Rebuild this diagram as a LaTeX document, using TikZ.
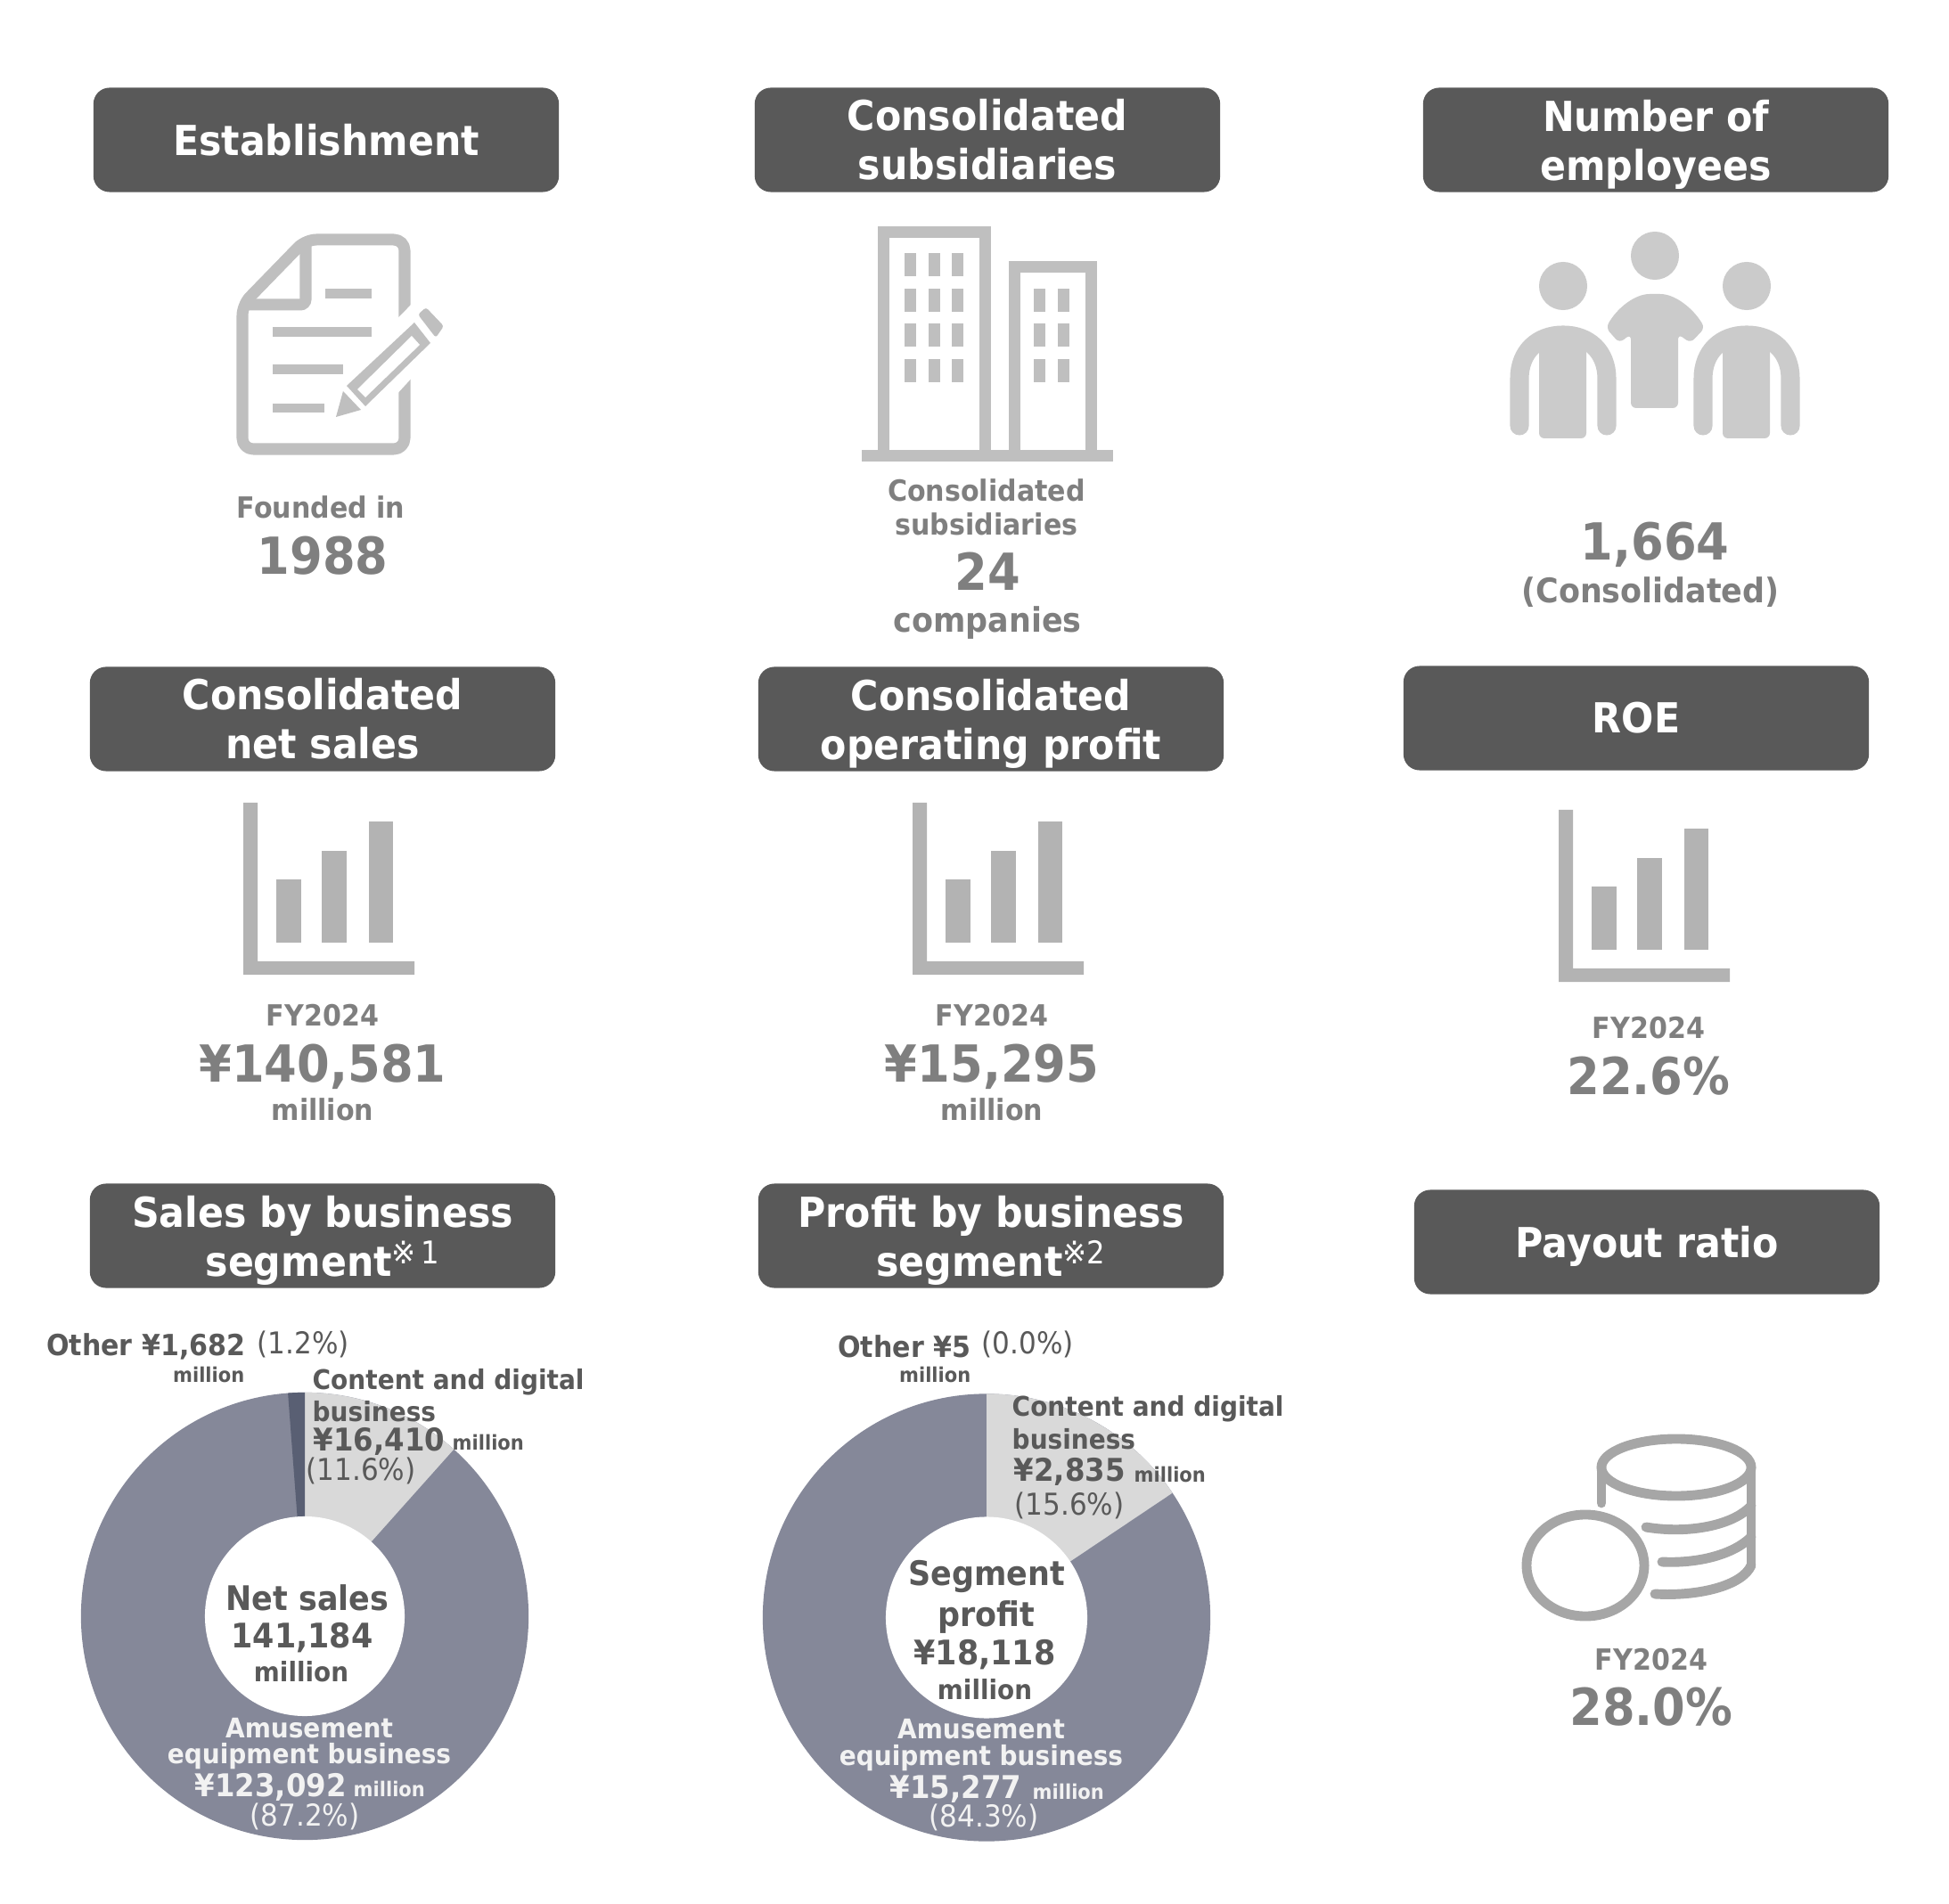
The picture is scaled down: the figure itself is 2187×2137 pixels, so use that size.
\documentclass[tikz,border=0pt]{standalone}
\usepackage{fontspec}
\setmainfont{DejaVu Sans}[FakeStretch=0.92]
\definecolor{headgray}{HTML}{595959}
\definecolor{txtgray}{HTML}{7F7F7F}
\definecolor{ringblue}{HTML}{858899}
\definecolor{ringdark}{HTML}{595F73}
\definecolor{ringlight}{HTML}{D9D9D9}
\definecolor{docgray}{HTML}{BFBFBF}
\definecolor{chartgray}{HTML}{B3B3B3}
\definecolor{peoplegray}{HTML}{CBCBCB}
\definecolor{coingray}{HTML}{A6A6A6}
\newcommand{\nodp}[1]{\raisebox{0pt}[\height][0pt]{#1}}
\newcommand{\refmark}[1]{{\mdseries\fontsize{10}{10}\selectfont\raisebox{4pt}{※#1}}}
\tikzset{
  headbox/.style={fill=headgray, text=white, rounded corners=0.18cm, minimum width=5.22cm,
    minimum height=1.17cm, inner sep=0pt, align=center,
    font=\bfseries\fontsize{13.2}{15.7}\selectfont},
  labtxt/.style={text=txtgray, inner sep=0pt, font=\bfseries\fontsize{9.3}{11}\selectfont},
  widetxt/.style={text=txtgray, inner sep=0pt, font=\bfseries\fontsize{10.8}{13}\selectfont},
  bigtxt/.style={text=txtgray, inner sep=0pt, font=\bfseries\fontsize{16.3}{19}\selectfont},
  ringtxt/.style={text=headgray, inner sep=0pt, font=\bfseries\fontsize{8.65}{10}\selectfont},
  ringnum/.style={text=headgray, inner sep=0pt, font=\bfseries\fontsize{10}{12}\selectfont},
  ringmil/.style={text=headgray, inner sep=0pt, font=\bfseries\fontsize{6.5}{8}\selectfont},
  ringpct/.style={text=headgray, inner sep=0pt, font=\fontsize{9.6}{12}\selectfont},
  othertxt/.style={text=headgray, inner sep=0pt, anchor=east, font=\bfseries\fontsize{9.3}{11}\selectfont},
  midtxt/.style={text=headgray, inner sep=0pt, font=\bfseries\fontsize{10.8}{13}\selectfont},
  midmil/.style={text=headgray, inner sep=0pt, font=\bfseries\fontsize{8.6}{10}\selectfont},
  onring/.style={text=white!95!black}
}
\begin{document}
\begin{tikzpicture}[x=0.01cm, y=-0.01cm]
    \useasboundingbox (0,0) rectangle (2187,2137);

    \draw (366,157) node [headbox] (estab) {Establishment};
    \draw (1108,157) node [headbox] (subs) {Consolidated\\subsidiaries};
    \draw (1858,157) node [headbox] (staff) {Number of\\\nodp{employees}};
    \draw (362,807) node [headbox] (sales) {Consolidated\\net sales};
    \draw (1112,807) node [headbox] (profit) {Consolidated\\\nodp{operating profit}};
    \draw (1836,806) node [headbox] (roe) {ROE};
    \draw (362,1387) node [headbox] (segsales) {Sales by business\\\nodp{segment\refmark{\,1}}};
    \draw (1112,1387) node [headbox] (segprofit) {Profit by business\\\nodp{segment\refmark{2}}};
    \draw (1848,1394) node [headbox] (payout) {\nodp{Payout ratio}};

    \draw[docgray, line width=3.7pt, line join=round, rounded corners=0.12cm]
        (343,269) -- (272,342) -- (272,504) -- (454,504) -- (454,269) -- cycle;
    \draw[docgray, line width=3.7pt, rounded corners=0.06cm] (343,269) -- (343,342) -- (272,342);
    \fill[white] (372,470) -- (380,425) -- (468,335) -- (510,372) -- (420,470) -- cycle;
    \fill[docgray] (365,324) rectangle (417,335);
    \fill[docgray] (306,367) rectangle (417,378);
    \fill[docgray] (306,409) rectangle (385,420);
    \fill[docgray] (306,453) rectangle (364,463);
    \fill[docgray] (377,468) -- (385,439) -- (405,460) -- cycle;
    \fill[docgray] (389,433) -- (410,456) -- (483,385) -- (465,362) -- cycle;
    \fill[white] (401,437) -- (410,446) -- (471,387) -- (462,377) -- cycle;
    \fill[docgray, rounded corners=0.03cm] (469,353) -- (478,345) -- (498,366) -- (489,379) -- cycle;

    \draw[docgray, line width=3.7pt] (991.5,510) -- (991.5,261) -- (1105.5,261) -- (1105.5,510);
    \draw[docgray, line width=3.7pt] (1138,510) -- (1138,300) -- (1224.5,300) -- (1224.5,510);
    \fill[docgray] (967,505) rectangle (1249,518);
    \foreach \x in {1015,1042,1068}
        \foreach \y in {284,324,363,403}
            \fill[docgray] (\x,\y) rectangle ++(13,26);
    \foreach \x in {1160,1187}
        \foreach \y in {324,363,403}
            \fill[docgray] (\x,\y) rectangle ++(13,26);

    \foreach \x in {1754,1857,1960}
        \fill[peoplegray] (\x,\ifnum\x=1857 287\else 321\fi) circle [radius=0.27cm];
    \fill[peoplegray, rounded corners=0.06cm] (1830,375) -- (1817,385) -- (1802,368) .. controls (1815,345) and (1835,330) .. (1857,330)
        .. controls (1879,330) and (1899,345) .. (1913,368) -- (1897,385) -- (1883,375) -- (1883,458) -- (1830,458) -- cycle;
    \foreach \x in {1754,1960} {
        \draw[peoplegray, line width=6pt, line cap=round] (\x-49,478) -- (\x-49,425)
            .. controls (\x-49,395) and (\x-29,376) .. (\x,376)
            .. controls (\x+29,376) and (\x+49,395) .. (\x+49,425) -- (\x+49,478);
        \fill[peoplegray, rounded corners=0.06cm] (\x-27,376) -- (\x-27,492) -- (\x+26,492) -- (\x+26,376) -- cycle;
    }

    \foreach \dx/\dy in {0/0,751/0,1476/8} {
        \begin{scope}[shift={(\dx,\dy)}]
            \fill[chartgray] (273,901) -- (289,901) -- (289,1079) -- (465,1079) -- (465,1094) -- (273,1094) -- cycle;
            \fill[chartgray] (310,987) rectangle (338,1058);
            \fill[chartgray] (361,955) rectangle (389,1058);
            \fill[chartgray] (414,922) rectangle (441,1058);
        \end{scope}
    }

    \draw[coingray, line width=3.1pt] (1881,1647) ellipse [x radius=0.84cm, y radius=0.32cm];
    \draw[coingray, line width=3.1pt, line cap=round] (1797,1647) -- (1797,1687);
    \draw[coingray, line width=3.1pt] (1965,1647) -- (1965,1757);
    \draw[coingray, line width=3.1pt, line cap=round] (1847,1714) .. controls (1895,1722) and (1945,1712) .. (1965,1690);
    \draw[coingray, line width=3.1pt, line cap=round] (1865,1753) .. controls (1905,1755) and (1945,1745) .. (1965,1725);
    \draw[coingray, line width=3.1pt, line cap=round] (1857,1789) .. controls (1905,1792) and (1955,1780) .. (1965,1757);
    \draw[coingray, line width=3.1pt] (1779,1757) ellipse [x radius=0.66cm, y radius=0.57cm];

    \fill[ringblue] (342,1814) circle [radius=2.51cm];
    \fill[ringlight] (342,1814) -- ++(90:2.51cm) arc [start angle=90, end angle=48.24, radius=2.51cm] -- cycle;
    \fill[ringdark] (342,1814) -- ++(90:2.51cm) arc [start angle=90, end angle=94.32, radius=2.51cm] -- cycle;
    \fill[white] (342,1814) circle [radius=1.12cm];

    \fill[ringblue] (1107,1815.5) circle [radius=2.51cm];
    \fill[ringlight] (1107,1815.5) -- ++(90:2.51cm) arc [start angle=90, end angle=33.84, radius=2.51cm] -- cycle;
    \fill[white] (1107,1815.5) circle [radius=1.13cm];

    \draw (360,569) node [labtxt] (founded) {Founded in};
    \draw (362,624) node [bigtxt] (foundyear) {1988};
    \draw (1107,550) node [labtxt] (subs1) {Consolidated};
    \draw (1107,588) node [labtxt] (subs2) {subsidiaries};
    \draw (1108,641) node [bigtxt] (subsnum) {24};
    \draw (1108,699) node [widetxt] (subs3) {companies};
    \draw (1857,611) node [bigtxt] (staffnum) {1,664};
    \draw (1852,665) node [widetxt] (staffnote) {(Consolidated)};

    \draw (362,1140) node [labtxt] (salesfy) {FY2024};
    \draw (362,1197) node [bigtxt] (salesnum) {¥140,581};
    \draw (362,1245) node [labtxt] (salesmil) {million};
    \draw (1113,1140) node [labtxt] (profitfy) {FY2024};
    \draw (1113,1197) node [bigtxt] (profitnum) {¥15,295};
    \draw (1113,1245) node [labtxt] (profitmil) {million};
    \draw (1850,1154) node [labtxt] (roefy) {FY2024};
    \draw (1850,1208) node [bigtxt] (roenum) {22.6\%};
    \draw (1853,1863) node [labtxt] (payfy) {FY2024};
    \draw (1853,1916) node [bigtxt] (paynum) {28.0\%};

    \draw (276,1511) node [othertxt] (other1) {Other ¥1,682};
    \draw (288,1509) node [ringpct, anchor=west] (other1p) {(1.2\%)};
    \draw (275,1543) node [ringmil, anchor=east] (other1m) {million};
    \draw (350,1551) node [ringtxt, anchor=west] (cont1a) {Content and digital};
    \draw (350,1584) node [ringtxt, anchor=west] (cont1b) {business};
    \draw (351,1618) node [ringnum, anchor=west] (cont1n) {¥16,410};
    \draw (507,1619) node [ringmil, anchor=west] (cont1m) {million};
    \draw (343,1651) node [ringpct, anchor=west] (cont1p) {(11.6\%)};
    \draw (345,1793) node [midtxt] (net1) {Net sales};
    \draw (339,1838) node [midtxt] (net2) {141,184};
    \draw (338,1876) node [midmil] (net3) {million};
    \draw (347,1940) node [ringtxt, onring] (amu1a) {Amusement};
    \draw (347,1971) node [ringtxt, onring] (amu1b) {equipment business};
    \draw (218,2006) node [ringnum, onring, anchor=west] (amu1n) {¥123,092};
    \draw (396,2008) node [ringmil, onring, anchor=west] (amu1m) {million};
    \draw (342,2039) node [ringpct, onring] (amu1p) {(87.2\%)};

    \draw (1090,1511) node [othertxt] (other2) {Other ¥5};
    \draw (1101,1509) node [ringpct, anchor=west] (other2p) {(0.0\%)};
    \draw (1090,1543) node [ringmil, anchor=east] (other2m) {million};
    \draw (1135,1581) node [ringtxt, anchor=west] (cont2a) {Content and digital};
    \draw (1135,1615) node [ringtxt, anchor=west] (cont2b) {business};
    \draw (1137,1652) node [ringnum, anchor=west] (cont2n) {¥2,835};
    \draw (1272,1655) node [ringmil, anchor=west] (cont2m) {million};
    \draw (1138,1690) node [ringpct, anchor=west] (cont2p) {(15.6\%)};
    \draw (1107,1769) node [midtxt] (seg1) {Segment};
    \draw (1107,1815) node [midtxt] (seg2) {profit};
    \draw (1105,1857) node [midtxt] (seg3) {¥18,118};
    \draw (1105,1896) node [midmil] (seg4) {million};
    \draw (1101,1941) node [ringtxt, onring] (amu2a) {Amusement};
    \draw (1101,1973) node [ringtxt, onring] (amu2b) {equipment business};
    \draw (998,2008) node [ringnum, onring, anchor=west] (amu2n) {¥15,277};
    \draw (1158,2011) node [ringmil, onring, anchor=west] (amu2m) {million};
    \draw (1104,2040) node [ringpct, onring] (amu2p) {(84.3\%)};
\end{tikzpicture}
\end{document}
